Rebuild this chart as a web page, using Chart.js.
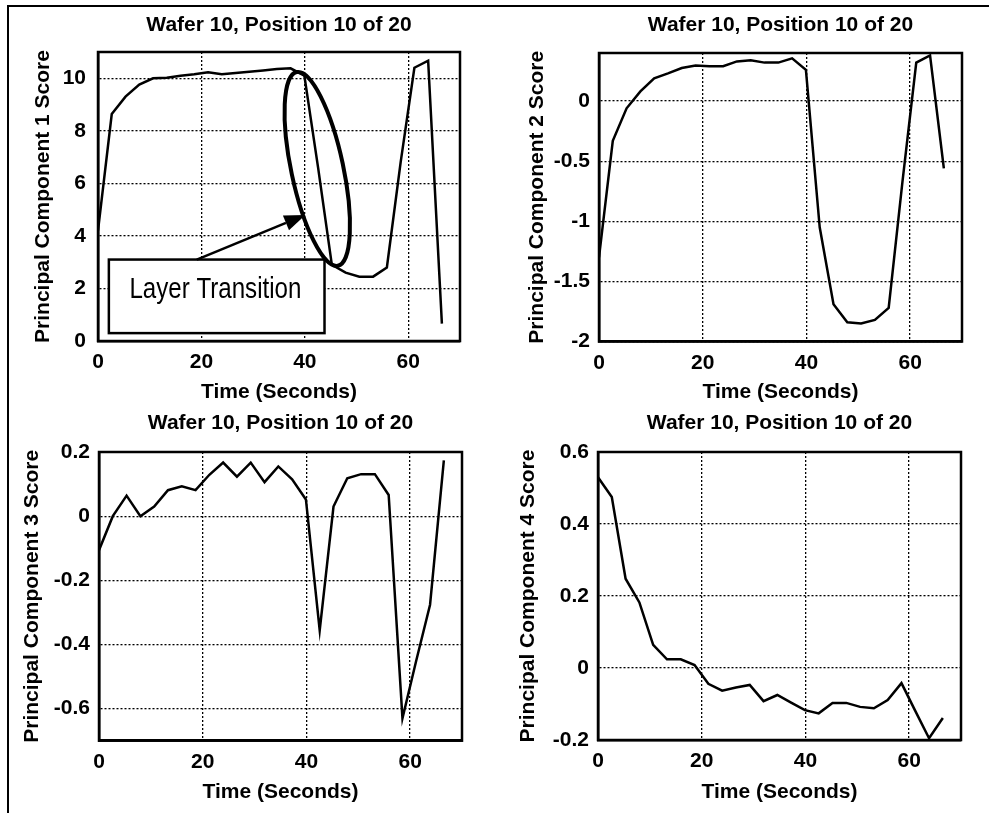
<!DOCTYPE html>
<html lang="en">

<head>
    <meta charset="utf-8" />
    <title>Wafer 10, Position 10 of 20 - Principal Component Scores</title>
    <script src="https://cdn.jsdelivr.net/npm/chart.js"></script>
    <style>
        body {
            margin: 0;
            background: #fff;
        }

        #page {
            position: relative;
            width: 989px;
            height: 813px;
            overflow: hidden;
            background: #fff;
        }

        /* scanned figure frame: only top and left edges are visible */
        .frame {
            position: absolute;
            left: 7px;
            top: 5px;
            right: 0;
            bottom: 0;
            border-top: 2px solid #000;
            border-left: 2px solid #000;
        }

        canvas {
            position: absolute;
        }
    </style>
</head>

<body>
    <div id="page">
        <div class="frame"></div>
        <canvas id="pc1" width="494" height="413" style="left:0;top:0"></canvas>
        <canvas id="pc2" width="495" height="413" style="left:494px;top:0"></canvas>
        <canvas id="pc3" width="494" height="413" style="left:0;top:400px"></canvas>
        <canvas id="pc4" width="495" height="413" style="left:494px;top:400px"></canvas>
    </div>
    <script>
        // sample times (seconds) shared by all four score traces
        const times = [0, 2.66, 5.32, 7.98, 10.64, 13.3, 15.96, 18.62, 21.28, 23.94, 26.6, 29.26, 31.92,
            34.58, 37.24, 39.9, 42.56, 45.22, 47.88, 50.54, 53.2, 55.86, 58.52, 61.18, 63.84, 66.5];

        // principal component scores
        const pc1Scores = [4.2, 8.64, 9.3, 9.76, 10.0, 10.02, 10.1, 10.15, 10.23, 10.15, 10.2, 10.25, 10.3,
            10.35, 10.38, 10.1, 6.6, 2.9, 2.6, 2.45, 2.45, 2.8, 6.8, 10.4, 10.67, 0.66];
        const pc2Scores = [-1.3, -0.33, -0.06, 0.08, 0.19, 0.23, 0.275, 0.295, 0.29, 0.29, 0.33, 0.34, 0.32,
            0.32, 0.355, 0.26, -1.05, -1.69, -1.84, -1.85, -1.82, -1.72, -0.67, 0.32, 0.38, -0.56];
        const pc3Scores = [-0.106, 0.0, 0.064, 0.0, 0.03, 0.081, 0.093, 0.081, 0.129, 0.167, 0.123, 0.167, 0.106,
            0.155, 0.115, 0.052, -0.356, 0.03, 0.118, 0.131, 0.131, 0.066, -0.63, -0.45, -0.276, 0.174];
        const pc4Scores = [0.53, 0.475, 0.248, 0.182, 0.064, 0.024, 0.024, 0.008, -0.044, -0.063, -0.054, -0.047, -0.092,
            -0.075, -0.096, -0.117, -0.126, -0.097, -0.097, -0.108, -0.112, -0.089, -0.042, -0.119, -0.195, -0.139];

        // axis ranges and tick steps
        const timeRange = [0, 70];
        const timeStep = 20;
        const yRanges = [[0, 11], [-2, 0.4], [-0.7, 0.2], [-0.2, 0.6]];
        const ySteps = [2, 0.5, 0.2, 0.2];

        const titleText = 'Wafer 10, Position 10 of 20';
        const xTitle = 'Time (Seconds)';
        const yTitles = ['Principal Component 1 Score', 'Principal Component 2 Score',
            'Principal Component 3 Score', 'Principal Component 4 Score'];

        // "Layer Transition" callout on the first plot, in data units
        const calloutText = 'Layer Transition';
        const calloutBox = { x0: 2.1, x1: 43.8, y0: 0.3, y1: 3.1 };
        const calloutTextAt = { x: 22.7, y: 1.97 };
        const arrowFrom = { x: 19.1, y: 3.1 };
        const arrowTo = { x: 40.1, y: 4.8 };
        const ringCentre = { x: 42.4, y: 6.55 };

        const boldFont = { family: "'Liberation Sans', Arial, sans-serif", size: 21, weight: 'bold', lineHeight: 1.2 };

        // draws the closed box round the plot area
        const plotBox = {
            id: 'plotBox',
            afterDraw(chart) {
                const { ctx, chartArea: a } = chart;
                ctx.save();
                ctx.strokeStyle = '#000';
                ctx.lineWidth = 2.5;
                ctx.strokeRect(a.left, a.top, a.right - a.left, a.bottom - a.top);
                ctx.restore();
            }
        };

        const callout = {
            id: 'callout',
            afterDraw(chart) {
                const { ctx, scales: { x, y } } = chart;
                const px = v => x.getPixelForValue(v);
                const py = v => y.getPixelForValue(v);
                ctx.save();

                // text box
                const bx = px(calloutBox.x0), by = py(calloutBox.y1);
                const bw = px(calloutBox.x1) - bx, bh = py(calloutBox.y0) - by;
                ctx.fillStyle = '#fff';
                ctx.fillRect(bx, by, bw, bh);
                ctx.strokeStyle = '#000';
                ctx.lineWidth = 2.5;
                ctx.strokeRect(bx, by, bw, bh);

                ctx.fillStyle = '#000';
                ctx.font = "30px 'Liberation Sans Narrow', 'Liberation Sans', Arial, sans-serif";
                ctx.textAlign = 'center';
                ctx.textBaseline = 'middle';
                const w = ctx.measureText(calloutText).width;
                const sx = Math.min(1, 172 / w);
                ctx.save();
                ctx.translate(px(calloutTextAt.x), py(calloutTextAt.y));
                ctx.scale(sx, 1);
                ctx.fillText(calloutText, 0, 0);
                ctx.restore();

                // arrow
                const x1 = px(arrowFrom.x), y1 = py(arrowFrom.y);
                const x2 = px(arrowTo.x), y2 = py(arrowTo.y);
                const ang = Math.atan2(y2 - y1, x2 - x1);
                const headLen = 21, headHalf = 8;
                const hx = x2 - headLen * Math.cos(ang), hy = y2 - headLen * Math.sin(ang);
                ctx.lineWidth = 2.5;
                ctx.beginPath();
                ctx.moveTo(x1, y1);
                ctx.lineTo(hx, hy);
                ctx.stroke();
                ctx.beginPath();
                ctx.moveTo(x2, y2);
                ctx.lineTo(hx + headHalf * Math.sin(ang), hy - headHalf * Math.cos(ang));
                ctx.lineTo(hx - headHalf * Math.sin(ang), hy + headHalf * Math.cos(ang));
                ctx.closePath();
                ctx.fill();

                // ring round the transition
                ctx.lineWidth = 4;
                ctx.beginPath();
                ctx.ellipse(px(ringCentre.x), py(ringCentre.y), 26, 99, -12 * Math.PI / 180, 0, Math.PI * 2);
                ctx.stroke();

                ctx.restore();
            }
        };

        // layout of each panel inside its canvas (pixels)
        const panelLayouts = [
            { plotLeft: 98, plotRight: 460, titleTop: 12.4, titleBottom: 14.4, plotBottom: 341, timeMid: 392, yTitleMid: 43, tickPad: 12 },
            { plotLeft: 105, plotRight: 468, titleTop: 12.4, titleBottom: 15.4, plotBottom: 341.5, timeMid: 392, yTitleMid: 43, tickPad: 9 },
            { plotLeft: 99, plotRight: 462, titleTop: 10.4, titleBottom: 16.4, plotBottom: 340.7, timeMid: 392.5, yTitleMid: 32, tickPad: 9 },
            { plotLeft: 104, plotRight: 467, titleTop: 10.4, titleBottom: 16.4, plotBottom: 340, timeMid: 392.5, yTitleMid: 34, tickPad: 9 }
        ];

        function makePanel(index, canvasId, scores, extraPlugins) {
            const canvas = document.getElementById(canvasId);
            const L = panelLayouts[index];
            const half = boldFont.size * boldFont.lineHeight / 2;
            const xHeight = L.timeMid - L.plotBottom + half;
            const padLeft = 10;

            return new Chart(canvas, {
                type: 'line',
                data: {
                    datasets: [{
                        data: times.map((t, i) => ({ x: t, y: scores[i] })),
                        borderColor: '#000',
                        borderWidth: 2.5,
                        pointRadius: 0,
                        tension: 0,
                        fill: false
                    }]
                },
                options: {
                    responsive: false,
                    animation: false,
                    events: [],
                    layout: {
                        padding: {
                            left: padLeft,
                            right: canvas.width - L.plotRight,
                            top: 0,
                            bottom: canvas.height - L.plotBottom - xHeight
                        }
                    },
                    plugins: {
                        legend: { display: false },
                        tooltip: { enabled: false },
                        title: {
                            display: true,
                            text: titleText,
                            fullSize: false,
                            color: '#000',
                            font: boldFont,
                            padding: { top: L.titleTop, bottom: L.titleBottom }
                        }
                    },
                    scales: {
                        x: {
                            type: 'linear',
                            min: timeRange[0],
                            max: timeRange[1],
                            ticks: {
                                stepSize: timeStep,
                                includeBounds: false,
                                color: '#000',
                                font: boldFont,
                                padding: 9,
                                maxRotation: 0
                            },
                            grid: { color: '#000', lineWidth: 1.3, drawTicks: false },
                            border: { color: '#000', width: 2.5, dash: [2, 2] },
                            title: { display: true, text: xTitle, color: '#000', font: boldFont, padding: 0 },
                            afterFit: s => { s.height = xHeight; }
                        },
                        y: {
                            min: yRanges[index][0],
                            max: yRanges[index][1],
                            ticks: {
                                stepSize: ySteps[index],
                                includeBounds: false,
                                color: '#000',
                                font: boldFont,
                                padding: L.tickPad,
                                callback: v => String(Math.round(v * 1000) / 1000)
                            },
                            grid: { color: '#000', lineWidth: 1.3, drawTicks: false },
                            border: { color: '#000', width: 2.5, dash: [2, 2] },
                            title: {
                                display: true,
                                text: yTitles[index],
                                color: '#000',
                                font: boldFont,
                                padding: { top: L.yTitleMid - padLeft - half, bottom: 0 }
                            },
                            afterFit: s => { s.width = L.plotLeft - padLeft; }
                        }
                    }
                },
                plugins: [plotBox].concat(extraPlugins || [])
            });
        }

        makePanel(0, 'pc1', pc1Scores, [callout]);
        makePanel(1, 'pc2', pc2Scores);
        makePanel(2, 'pc3', pc3Scores);
        makePanel(3, 'pc4', pc4Scores);
    </script>
</body>

</html>
